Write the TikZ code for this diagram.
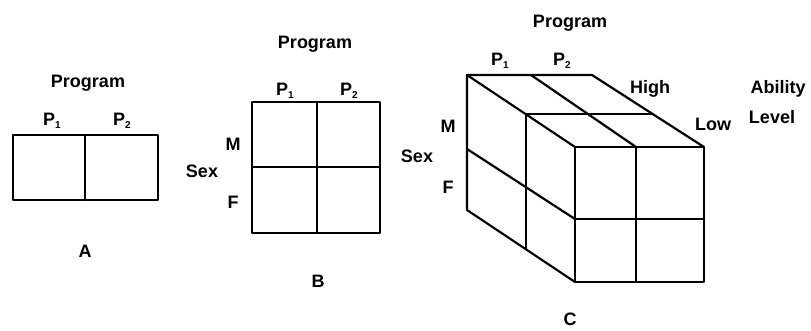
\documentclass[tikz,border=0pt]{standalone}
\usepackage{fontspec}
\setmainfont{Liberation Sans}
\tikzset{
  lbl/.style={anchor=base, inner sep=0pt, font=\fontsize{18}{20}\selectfont\bfseries},
  grid/.style={line width=2.2pt, line join=round, line cap=round}
}
\newcommand{\Psub}[1]{P\raisebox{-0.35ex}{\fontsize{10}{11}\selectfont #1}}
\begin{document}
\begin{tikzpicture}[x=1pt,y=-1pt]
\useasboundingbox (0,0) rectangle (811,330);
% ---------- A ----------
\draw[grid] (13,135) rectangle (158,200);
\draw[grid] (85,135) -- (85,200);
\node[lbl] (aprog) at (88,87) {Program};
\node[lbl] (ap1) at (52,125) {\Psub{1}};
\node[lbl] (ap2) at (122,125) {\Psub{2}};
\node[lbl] (alab) at (85,257) {A};
% ---------- B ----------
\draw[grid] (252,102) rectangle (380,233);
\draw[grid] (317,102) -- (317,233);
\draw[grid] (252,167) -- (380,167);
\node[lbl] (bprog) at (315,48) {Program};
\node[lbl] (bp1) at (285,95) {\Psub{1}};
\node[lbl] (bp2) at (349,95) {\Psub{2}};
\node[lbl] (bm) at (233,150) {M};
\node[lbl] (bsex) at (202,177) {Sex};
\node[lbl] (bf) at (233,208) {F};
\node[lbl] (blab) at (318,287) {B};
% ---------- C ----------
\coordinate (b1) at (467,75);
\coordinate (b2) at (592,75);
\coordinate (b3) at (467,210);
\coordinate (bd) at (531,75);
\coordinate (f1) at (575,147);
\coordinate (f2) at (704,147);
\coordinate (f3) at (575,282);
\coordinate (f4) at (704,282);
\coordinate (fm) at (636,147);
\coordinate (m1) at (526,114);
\coordinate (m2) at (651,114);
\coordinate (m3) at (526,249);
\coordinate (lm1) at (467,149);
\coordinate (lm2) at (575,219);
% top face
\draw[grid] (b1) -- (b2) -- (f2);
\draw[grid] (b1) -- (f1);
\draw[grid] (bd) -- (fm);
\draw[grid] (m1) -- (m2);
% front face
\draw[grid] (f1) rectangle (f4);
\draw[grid] (fm) -- (636,282);
\draw[grid] (lm2) -- (704,219);
% left face
\draw[grid] (b1) -- (b3) -- (f3);
\draw[grid] (m1) -- (m3);
\draw[grid] (lm1) -- (lm2);
\node[lbl] (cprog) at (570,27) {Program};
\node[lbl] (cp1) at (500,65) {\Psub{1}};
\node[lbl] (cp2) at (562,65) {\Psub{2}};
\node[lbl] (chigh) at (650,93) {High};
\node[lbl] (cabil) at (778,93) {Ability};
\node[lbl] (clev) at (772,123) {Level};
\node[lbl] (clow) at (713,130) {Low};
\node[lbl] (cm) at (448,132) {M};
\node[lbl] (csex) at (417,162) {Sex};
\node[lbl] (cf) at (448,193) {F};
\node[lbl] (clab) at (570,325) {C};
\end{tikzpicture}
\end{document}
